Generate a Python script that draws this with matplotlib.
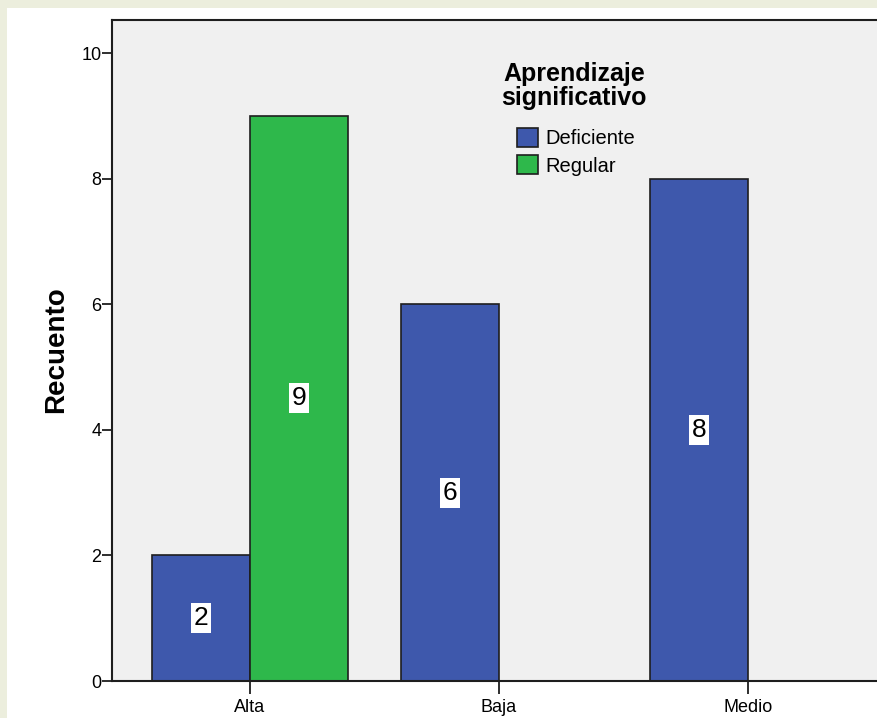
import matplotlib
matplotlib.use("Agg")
import matplotlib.pyplot as plt
from matplotlib.patches import Rectangle
import numpy as np

# Data
categories = ["Alta", "Baja", "Medio"]
deficiente = [2, 6, 8]
regular = [9, 0, 0]
series_names = ["Deficiente", "Regular"]
legend_title = "Aprendizaje\nsignificativo"
y_label = "Recuento"
y_ticks = [0, 2, 4, 6, 8, 10]

BLUE = "#3E58AC"
GREEN = "#2EB84B"
EDGE = "#1E1E1E"
FONT = ["Liberation Sans", "DejaVu Sans"]

W, H = 877, 718
fig = plt.figure(figsize=(W / 100, H / 100), dpi=100)
fig.patch.set_facecolor("#ECEEDD")
# white sheet behind the chart (background picture strip shows at left/top)
fig.add_artist(Rectangle((7 / W, 0), 1, 1 - 8 / H, transform=fig.transFigure,
                         facecolor="white", edgecolor="none", zorder=0))

left, right, top, bottom = 112, 877, 20, 681
ax = fig.add_axes([left / W, 1 - bottom / H, (right - left) / W, (bottom - top) / H])
ax.set_facecolor("#F0F0F0")

x = np.arange(len(categories))
width = 0.395

# bars with zero height are not drawn (SPSS leaves them out)
for i in range(len(categories)):
    if deficiente[i] > 0:
        ax.bar(x[i] - width / 2, deficiente[i], width, color=BLUE, edgecolor=EDGE, linewidth=1.2, zorder=2)
        ax.text(x[i] - width / 2, deficiente[i] / 2, str(deficiente[i]), ha="center", va="center",
                fontsize=19, family=FONT, zorder=3,
                bbox=dict(facecolor="white", edgecolor="none", pad=2))
    if regular[i] > 0:
        ax.bar(x[i] + width / 2, regular[i], width, color=GREEN, edgecolor=EDGE, linewidth=1.2, zorder=2)
        ax.text(x[i] + width / 2, regular[i] / 2, str(regular[i]), ha="center", va="center",
                fontsize=19, family=FONT, zorder=3,
                bbox=dict(facecolor="white", edgecolor="none", pad=2))

ax.set_xlim((left - 250) / 249, (right - 250) / 249)
ax.set_ylim(0, (bottom - top) / 62.8)

ax.set_xticks(x)
ax.set_xticklabels(categories, family=FONT, fontsize=13)
ax.set_yticks(y_ticks)
ax.set_yticklabels([str(v) for v in y_ticks], family=FONT, fontsize=13)
ax.tick_params(axis="x", length=9, width=1.3, color=EDGE, pad=4)
ax.tick_params(axis="y", length=7, width=1.3, color=EDGE, pad=0.5)

for side in ["left", "top", "bottom"]:
    ax.spines[side].set_color(EDGE)
    ax.spines[side].set_linewidth(1.5)
ax.spines["right"].set_visible(False)

fig.text(56 / W, 1 - 350 / H, y_label, rotation=90, ha="center", va="center",
         fontsize=20, fontweight="bold", family=FONT)

# legend title as its own centred text, entries below it
fig.text(574 / W, 1 - 62 / H, legend_title, ha="center", va="top", multialignment="center",
         fontsize=18, fontweight="bold", family=FONT, linespacing=1.0)
handles = [Rectangle((0, 0), 1, 1, facecolor=BLUE, edgecolor=EDGE, linewidth=1.2),
           Rectangle((0, 0), 1, 1, facecolor=GREEN, edgecolor=EDGE, linewidth=1.2)]
fig.legend(handles, series_names, loc="upper left",
           bbox_to_anchor=(507 / W, 1 - 118 / H), frameon=False, borderpad=0,
           prop={"family": FONT, "size": 14.5},
           handlelength=1.05, handleheight=1.05, handletextpad=0.35, labelspacing=0.35)

fig.savefig("out.png", dpi=100, facecolor=fig.get_facecolor())
